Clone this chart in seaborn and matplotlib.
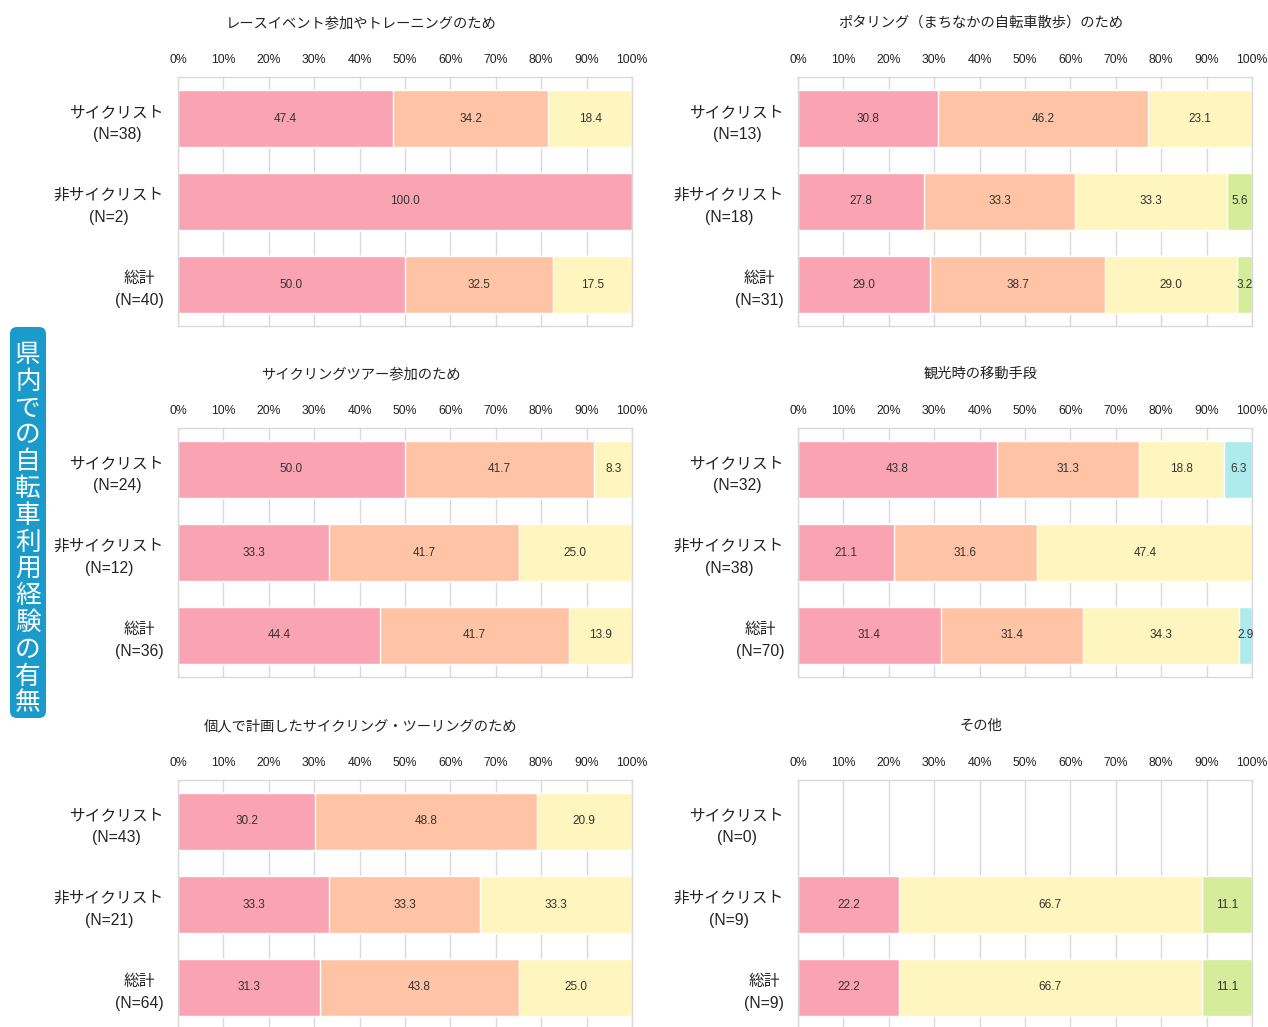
import numpy as np
import pandas as pd
import matplotlib
matplotlib.use("Agg")
import matplotlib.pyplot as plt
import seaborn as sns
from matplotlib.patches import FancyBboxPatch

# パネルの順番: 左上, 右上, 左中, 右中, 左下, 右下
titles = [
    "レースイベント参加やトレーニングのため",
    "ポタリング（まちなかの自転車散歩）のため",
    "サイクリングツアー参加のため",
    "観光時の移動手段",
    "個人で計画したサイクリング・ツーリングのため",
    "その他",
]
groups = ["サイクリスト", "非サイクリスト", "総計"]
n_counts = [[38, 2, 40], [13, 18, 31], [24, 12, 36], [32, 38, 70], [43, 21, 64], [0, 9, 9]]

pink = [[47.4, 100.0, 50.0], [30.8, 27.8, 29.0], [50.0, 33.3, 44.4],
        [43.8, 21.1, 31.4], [30.2, 33.3, 31.3], [0, 22.2, 22.2]]
peach = [[34.2, 0, 32.5], [46.2, 33.3, 38.7], [41.7, 41.7, 41.7],
         [31.3, 31.6, 31.4], [48.8, 33.3, 43.8], [0, 0, 0]]
yellow = [[18.4, 0, 17.5], [23.1, 33.3, 29.0], [8.3, 25.0, 13.9],
          [18.8, 47.4, 34.3], [20.9, 33.3, 25.0], [0, 66.7, 66.7]]
cyan = [[0, 0, 0], [0, 0, 0], [0, 0, 0], [6.3, 0, 2.9], [0, 0, 0], [0, 0, 0]]
green = [[0, 0, 0], [0, 5.6, 3.2], [0, 0, 0], [0, 0, 0], [0, 0, 0], [0, 11.1, 11.1]]

colors = ["#F9A3B3", "#FFC4A6", "#FFF5BE", "#AEEBEC", "#D5EC9A"]
side_label = "県内での自転車利用経験の有無"

sns.set_style("white")
plt.rcParams["font.family"] = ["Liberation Sans", "Noto Sans CJK JP", "DejaVu Sans"]

W, H = 1268, 1027
fig = plt.figure(figsize=(W / 100, H / 100), dpi=100)
lefts = [178, 798]
tops = [77, 428, 780]
aw, ah = 454, 249

for i in range(6):
    r, c = divmod(i, 2)
    ax = fig.add_axes([lefts[c] / W, 1 - (tops[r] + ah) / H, aw / W, ah / H])
    labels = [f"{g}\n(N={n})" for g, n in zip(groups, n_counts[i])]
    stack = np.array([pink[i], peach[i], yellow[i], cyan[i], green[i]], dtype=float)
    cum = np.cumsum(stack, axis=0)

    # 積み上げ: 合計の大きい方から順に重ねて描く
    for k in range(4, -1, -1):
        df = pd.DataFrame({"group": labels, "value": np.minimum(cum[k], 100)})
        sns.barplot(data=df, x="value", y="group", order=labels, orient="h",
                    color=colors[k], saturation=1, width=0.69, edgecolor="white",
                    linewidth=1, errorbar=None, ax=ax)

    for k in range(5):
        for j in range(3):
            v = stack[k, j]
            if v > 0:
                ax.text(cum[k, j] - v / 2, j, f"{v:.1f}", ha="center", va="center",
                        fontsize=8.5, color="#333333")

    ax.set_xlim(0, 100)
    ax.set_ylim(2.5, -0.5)
    ax.set_xticks(range(0, 101, 10))
    ax.set_xticklabels([f"{t}%" for t in range(0, 101, 10)])
    ax.xaxis.tick_top()
    ax.tick_params(axis="x", length=0, pad=8, labelsize=8.8, colors="#222222")
    ax.tick_params(axis="y", length=0, pad=10, labelsize=11.3, colors="#222222")
    for t in ax.get_yticklabels():
        t.set_multialignment("center")
        t.set_linespacing(1.6)
    ax.set_xlabel("")
    ax.set_ylabel("")
    ax.grid(axis="x", color="#D9D9D9", linewidth=1)
    ax.set_axisbelow(True)
    for s in ax.spines.values():
        s.set_color("#D9D9D9")
        s.set_linewidth(1)
    ax.text(0.403, 1 + 54 / ah, titles[i], transform=ax.transAxes, ha="center",
            va="center", fontsize=10.3, color="#222222")

# 左側の縦ラベル
lab = fig.add_axes([10 / W, 1 - 718 / H, 36 / W, 391 / H])
lab.set_xlim(0, 36)
lab.set_ylim(0, 391)
lab.axis("off")
lab.add_patch(FancyBboxPatch((0, 0), 36, 391, boxstyle="round,pad=0,rounding_size=7",
                             facecolor="#1B9BCB", edgecolor="none"))
for n, ch in enumerate(side_label):
    yc = 355 + n * 26.8
    lab.text(18, 718 - yc, ch, ha="center", va="center", fontsize=18.5,
             color="white", family=["Noto Sans CJK JP"])

fig.savefig("out.png", dpi=100)
